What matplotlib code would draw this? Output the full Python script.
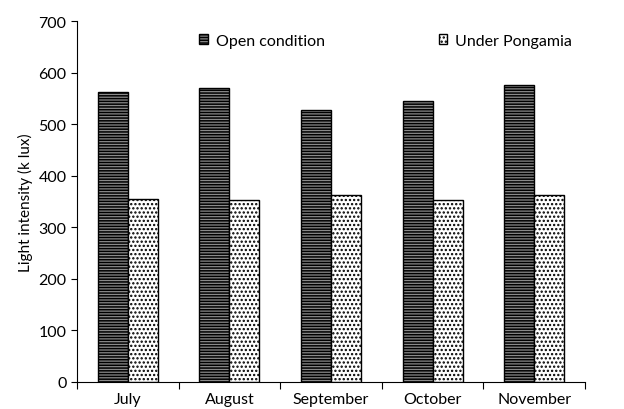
import numpy as np
import matplotlib.pyplot as plt
from matplotlib.patches import Patch

plt.rcParams["font.family"] = ["Lato", "DejaVu Sans"]
plt.rcParams["hatch.linewidth"] = 1.1

months = ["July", "August", "September", "October", "November"]
open_cond = [562, 570, 528, 545, 575]
under_pongamia = [355, 352, 362, 352, 362]

fig = plt.figure(figsize=(6.24, 4.10), dpi=100)
ax = fig.add_axes([0.1234, 0.0659, 0.8141, 0.8804])

x = np.arange(len(months))
w = 0.295
ax.bar(x - w / 2, open_cond, w, color="#8a8a8a", edgecolor="black",
       hatch="------", linewidth=1.0)
ax.bar(x + w / 2, under_pongamia, w, color="white", edgecolor="black",
       hatch="....", linewidth=1.0)

ax.set_xlim(-0.5, len(months) - 0.5)
ax.set_ylim(0, 700)
ax.set_yticks(range(0, 701, 100))
ax.set_xticks(np.arange(-0.5, len(months), 1.0))
ax.set_xticklabels([])
ax.set_xticks(x, minor=True)
ax.set_xticklabels(months, minor=True, fontsize=11.5)
ax.tick_params(axis="x", which="minor", length=0, pad=7)
ax.tick_params(axis="x", which="major", length=5, direction="out")
ax.tick_params(axis="y", length=4, labelsize=11.5)
ax.spines["top"].set_visible(False)
ax.spines["right"].set_visible(False)
ax.set_ylabel("Light intensity (k lux)", fontsize=11)

handles = [Patch(facecolor="#8a8a8a", edgecolor="black", hatch="------"),
           Patch(facecolor="white", edgecolor="black", hatch="....")]
ax.legend(handles, ["Open condition", "Under Pongamia"], ncol=2, frameon=False,
          loc="upper center", bbox_to_anchor=(0.608, 1.005), fontsize=11.5,
          columnspacing=7.1, handlelength=0.55, handleheight=0.55,
          handletextpad=0.5)

fig.savefig("out.png", dpi=100)
